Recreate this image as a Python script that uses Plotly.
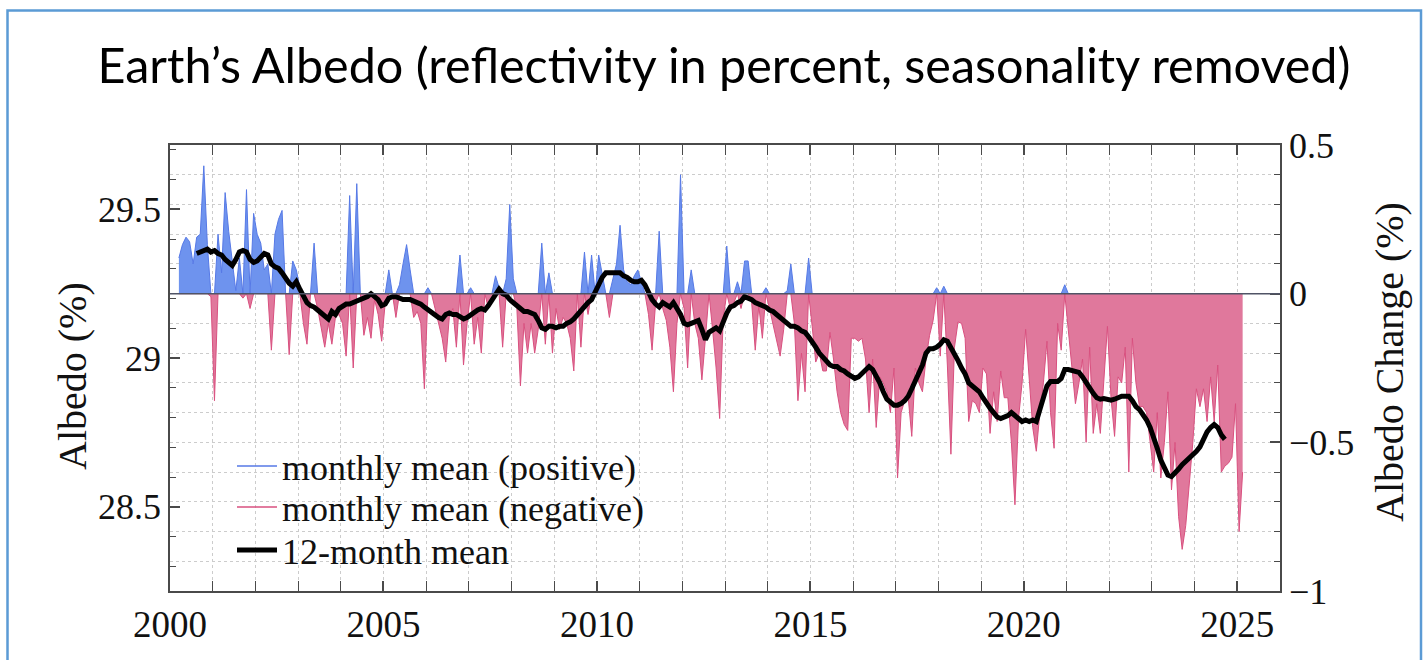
import plotly.graph_objects as go

# ---------------- data ----------------
title_text = "Earth’s Albedo (reflectivity in percent, seasonality removed)"
albedo_baseline = 29.2167          # albedo (%) corresponding to zero change
monthly_start = (2000, 3)          # first monthly value: March 2000
monthly_change = [
    # 2000 (Mar-Dec)
    0.12, 0.165, 0.19, 0.175, 0.10, 0.19, 0.2, 0.43, 0.165, -0.01,
    # 2001
    -0.36, 0.2, 0.07, 0.34, 0.21, 0.1, 0.01, 0.12, -0.015, 0.35, -0.05, 0.27,
    # 2002
    0.2, 0.17, 0.08, 0.1, -0.19, 0.2, 0.25, 0.28, 0.0, -0.205, 0.11, 0.08,
    # 2003
    0.02, -0.1, -0.17, 0.0, 0.17, -0.05, -0.12, -0.18, -0.1, -0.17, -0.08, -0.07,
    # 2004
    -0.1, -0.21, 0.33, -0.25, 0.37, 0.0, -0.14, -0.08, -0.15, -0.02, -0.07, -0.16,
    # 2005
    -0.03, 0.08, 0.0, -0.08, 0.03, 0.1, 0.165, 0.08, -0.08, -0.06, -0.1, -0.32,
    # 2006
    0.02, 0.0, -0.05, -0.1, -0.15, -0.23, -0.08, -0.05, -0.18, 0.13, -0.24, -0.1,
    # 2007
    0.02, -0.17, -0.08, -0.2, 0.0, -0.05, -0.03, 0.06, 0.02, -0.18, 0.05, 0.3,
    # 2008
    0.05, -0.05, -0.31, -0.1, -0.2, -0.1, -0.2, -0.12, 0.17, -0.17, 0.07, -0.2,
    # 2009
    -0.05, -0.12, -0.08, -0.1, -0.15, -0.26, 0.0, -0.18, 0.14, -0.07, 0.13, 0.0,
    # 2010
    0.13, 0.06, 0.0, -0.08, 0.05, 0.1, 0.23, 0.08, 0.04, 0.03, 0.06, 0.08,
    # 2011
    0.04, 0.0, -0.07, -0.19, -0.03, 0.21, -0.05, -0.09, -0.18, -0.33, -0.1, 0.4,
    # 2012
    -0.05, -0.25, 0.08, -0.1, -0.15, -0.29, -0.15, 0.0, -0.12, -0.25, -0.42, -0.08,
    # 2013
    0.16, -0.05, -0.03, 0.04, -0.05, 0.11, 0.11, -0.03, -0.19, -0.04, -0.15, 0.02,
    # 2014
    -0.05, -0.1, -0.15, -0.21, -0.12, 0.01, 0.1, -0.1, -0.36, -0.2, -0.33, 0.12,
    # 2015
    -0.11, -0.23, -0.2, -0.26, -0.26, -0.13, -0.22, -0.33, -0.4, -0.44, -0.46, -0.15,
    # 2016
    -0.15, -0.16, -0.15, -0.22, -0.4, -0.22, -0.45, -0.28, -0.3, -0.33, -0.4, -0.25,
    # 2017
    -0.62, -0.4, -0.36, -0.35, -0.48, -0.25, -0.3, -0.33, -0.22, -0.14, -0.09, 0.02,
    # 2018
    -0.21, 0.025, -0.24, -0.54, -0.18, -0.095, -0.1, -0.15, -0.43, -0.36, -0.37, -0.4,
    # 2019
    -0.25, -0.27, -0.47, -0.33, -0.43, -0.26, -0.35, -0.35, -0.5, -0.71, -0.42, -0.3,
    # 2020
    -0.12, -0.3, -0.45, -0.53, -0.4, -0.3, -0.16, -0.4, -0.52, -0.1, -0.19, 0.03,
    # 2021
    -0.12, -0.25, -0.37, -0.3, -0.22, -0.5, -0.18, -0.47, -0.37, -0.47, -0.3, -0.11,
    # 2022
    -0.35, -0.48, -0.28, -0.3, -0.18, -0.6, -0.15, -0.3, -0.38, -0.38, -0.4, -0.5,
    # 2023
    -0.6, -0.4, -0.62, -0.5, -0.33, -0.66, -0.5, -0.75, -0.86, -0.78, -0.65, -0.5,
    # 2024
    -0.32, -0.38, -0.32, -0.43, -0.28, -0.43, -0.24, -0.6, -0.58, -0.57, -0.55, -0.37,
    # 2025 (Jan-Feb)
    -0.8, -0.6,
]

mean12_start = (2000, 8)           # first 12-month mean value: August 2000
mean12_change = [
    # 2000 (Aug-Dec)
    0.135, 0.14, 0.148, 0.15, 0.14,
    # 2001
    0.145, 0.135, 0.13, 0.115, 0.105, 0.095, 0.115, 0.14, 0.145, 0.14, 0.115, 0.105,
    # 2002
    0.11, 0.125, 0.135, 0.13, 0.1, 0.09, 0.085, 0.07, 0.05, 0.035, 0.025, 0.04,
    # 2003
    0.015, -0.01, -0.03, -0.04, -0.045, -0.055, -0.065, -0.08, -0.085, -0.06, -0.07, -0.05,
    # 2004
    -0.04, -0.035, -0.035, -0.03, -0.025, -0.02, -0.015, -0.01, 0.0, -0.01, -0.02, -0.04,
    # 2005
    -0.035, -0.015, -0.01, -0.01, -0.015, -0.02, -0.02, -0.02, -0.025, -0.03, -0.035, -0.045,
    # 2006
    -0.055, -0.06, -0.07, -0.08, -0.085, -0.07, -0.065, -0.07, -0.07, -0.08, -0.085, -0.08,
    # 2007
    -0.07, -0.06, -0.055, -0.05, -0.055, -0.04, -0.02, 0.0, 0.015, 0.0, -0.005, -0.02,
    # 2008
    -0.03, -0.04, -0.055, -0.06, -0.06, -0.065, -0.07, -0.09, -0.115, -0.12, -0.11, -0.11,
    # 2009
    -0.115, -0.11, -0.11, -0.1, -0.095, -0.085, -0.07, -0.06, -0.045, -0.03, -0.02, 0.01,
    # 2010
    0.03, 0.055, 0.07, 0.07, 0.07, 0.07, 0.07, 0.06, 0.055, 0.045, 0.04, 0.04,
    # 2011
    0.045, 0.03, 0.0, -0.02, -0.035, -0.045, -0.03, -0.04, -0.045, -0.03, -0.05, -0.07,
    # 2012
    -0.1, -0.105, -0.1, -0.095, -0.09, -0.12, -0.155, -0.13, -0.12, -0.115, -0.125, -0.09,
    # 2013
    -0.065, -0.045, -0.04, -0.03, -0.025, -0.01, -0.015, -0.02, -0.03, -0.035, -0.04, -0.045,
    # 2014
    -0.055, -0.06, -0.07, -0.08, -0.09, -0.1, -0.11, -0.11, -0.115, -0.125, -0.13, -0.145,
    # 2015
    -0.16, -0.18, -0.2, -0.215, -0.225, -0.24, -0.245, -0.245, -0.255, -0.26, -0.27, -0.28,
    # 2016
    -0.285, -0.28, -0.27, -0.26, -0.245, -0.255, -0.275, -0.3, -0.33, -0.355, -0.365, -0.375,
    # 2017
    -0.375, -0.37, -0.36, -0.345, -0.32, -0.295, -0.27, -0.24, -0.2, -0.185, -0.185, -0.18,
    # 2018
    -0.17, -0.155, -0.16, -0.18, -0.2, -0.225, -0.25, -0.27, -0.3, -0.31, -0.32, -0.33,
    # 2019
    -0.35, -0.37, -0.385, -0.4, -0.415, -0.42, -0.415, -0.41, -0.4, -0.41, -0.425, -0.43,
    # 2020
    -0.425, -0.43, -0.425, -0.43, -0.39, -0.35, -0.31, -0.295, -0.295, -0.295, -0.285, -0.255,
    # 2021
    -0.255, -0.258, -0.26, -0.265, -0.28, -0.3, -0.32, -0.335, -0.35, -0.355, -0.353, -0.355,
    # 2022
    -0.358, -0.355, -0.35, -0.345, -0.345, -0.345, -0.36, -0.38, -0.39, -0.405, -0.425, -0.45,
    # 2023
    -0.48, -0.52, -0.56, -0.59, -0.61, -0.615, -0.605, -0.59, -0.575, -0.565, -0.555, -0.54,
    # 2024 (Jan-Sep)
    -0.53, -0.515, -0.49, -0.465, -0.45, -0.44, -0.45, -0.475, -0.49,
]

x_tick_years = [2000, 2005, 2010, 2015, 2020, 2025]
left_tick_values = [28.5, 29, 29.5]
right_tick_values = [-1, -0.5, 0, 0.5]
legend_names = ["monthly mean (positive)", "monthly mean (negative)", "12-month mean"]
left_axis_title = "Albedo (%)"
right_axis_title = "Albedo Change (%)"

# ---------------- styles ----------------
BLUE_FILL = "#6e93ee"
BLUE_LINE = "#5679e6"
PINK_FILL = "#e0789c"
PINK_LINE = "#d9507f"
GRID = "#cccccc"
AXIS = "#4a4a4a"
SERIF = "Liberation Serif"


def decimal_years(start, n):
    y, m = start
    return [y + (m - 1 + i + 0.5) / 12 for i in range(n)]


xm = decimal_years(monthly_start, len(monthly_change))
xa = decimal_years(mean12_start, len(mean12_change))
pos = [max(v, 0.0) for v in monthly_change]
neg = [min(v, 0.0) for v in monthly_change]

fig = go.Figure()
fig.add_trace(go.Scatter(x=xm, y=pos, yaxis="y2", mode="lines", fill="tozeroy",
                         fillcolor=BLUE_FILL, line=dict(color=BLUE_LINE, width=1),
                         showlegend=False, hoverinfo="skip"))
fig.add_trace(go.Scatter(x=xm, y=neg, yaxis="y2", mode="lines", fill="tozeroy",
                         fillcolor=PINK_FILL, line=dict(color=PINK_LINE, width=1),
                         showlegend=False, hoverinfo="skip"))
fig.add_trace(go.Scatter(x=xa, y=mean12_change, yaxis="y2", mode="lines",
                         line=dict(color="black", width=5), showlegend=False))

# legend-only entries (line samples), one legend per row for exact row spacing
legend_ids = ["legend", "legend2", "legend3"]
for name, col, w, lid in zip(legend_names, [BLUE_LINE, PINK_LINE, "black"],
                             [1.5, 1.5, 5], legend_ids):
    fig.add_trace(go.Scatter(x=[None], y=[None], mode="lines", name=name,
                             line=dict(color=col, width=w), yaxis="y2",
                             legend=lid))

# placeholder trace so the left (albedo) axis is bound to the base subplot
fig.add_trace(go.Scatter(x=[None], y=[None], mode="lines", showlegend=False))

L, R, T, B = 170, 148, 145, 69
W, H = 1428, 660
pw, ph = W - L - R, H - T - B


def px_x(px):
    return (px - L) / pw


def px_y(py):
    return (H - B - py) / ph


def legend_at(row_center):
    return dict(x=px_x(232), y=px_y(row_center), xanchor="left", yanchor="middle",
                bgcolor="rgba(0,0,0,0)", borderwidth=0,
                font=dict(family=SERIF, size=36, color="#111"),
                itemwidth=40, tracegroupgap=0)


fig.update_layout(
    width=W, height=H,
    margin=dict(l=L, r=R, t=T, b=B, pad=0),
    paper_bgcolor="white", plot_bgcolor="white",
    title=dict(text=title_text, x=724 / W, xref="container", xanchor="center",
               y=1 - 66 / H, yref="container", yanchor="middle",
               font=dict(family="Lato", size=48.5, color="black")),
    xaxis=dict(range=[2000, 2026], tickvals=x_tick_years,
               ticktext=[str(v) for v in x_tick_years],
               ticks="inside", ticklen=10, tickwidth=1.5, tickcolor=AXIS,
               showline=True, linecolor=AXIS, linewidth=1.5, mirror="allticks",
               showgrid=True, gridcolor=GRID, griddash="dot", gridwidth=1,
               zeroline=False,
               minor=dict(dtick=1, tick0=2000, ticks="inside", ticklen=6,
                          tickwidth=1.2, tickcolor=AXIS, showgrid=True,
                          gridcolor=GRID, griddash="dot", gridwidth=1),
               tickfont=dict(family=SERIF, size=37, color="#111")),
    yaxis=dict(range=[albedo_baseline - 1, albedo_baseline + 0.5],
               tickvals=left_tick_values,
               ticktext=["28.5", "29", "29.5"],
               ticks="inside", ticklen=10, tickwidth=1.5, tickcolor=AXIS,
               showline=True, linecolor=AXIS, linewidth=1.5,
               showgrid=False, zeroline=False,
               minor=dict(dtick=0.1, tick0=29, ticks="inside", ticklen=6,
                          tickwidth=1.2, tickcolor=AXIS, showgrid=False),
               tickfont=dict(family=SERIF, size=36, color="#111")),
    yaxis2=dict(range=[-1, 0.5], overlaying="y", side="right",
                tickvals=right_tick_values,
                ticks="inside", ticklen=10, tickwidth=1.5, tickcolor=AXIS,
                showline=True, linecolor=AXIS, linewidth=1.5,
                showgrid=True, gridcolor=GRID, griddash="dot", gridwidth=1,
                zeroline=False,
                minor=dict(dtick=0.1, tick0=0, ticks="inside", ticklen=6,
                           tickwidth=1.2, tickcolor=AXIS, showgrid=True,
                           gridcolor=GRID, griddash="dot", gridwidth=1),
                tickfont=dict(family=SERIF, size=36, color="#111")),
    legend=legend_at(466),
    legend2=legend_at(507),
    legend3=legend_at(550),
    showlegend=True,
)

# zero reference line on the change axis
fig.add_shape(type="line", xref="paper", x0=0, x1=1, yref="y2", y0=0, y1=0,
              line=dict(color="#505466", width=1.5), layer="above")

# light-blue frame around the slide figure
fig.add_shape(type="rect", xref="paper", yref="paper",
              x0=px_x(7.5), x1=px_x(1421), y0=px_y(680), y1=px_y(10.5),
              line=dict(color="#5b9bd5", width=2.5), fillcolor="rgba(0,0,0,0)",
              layer="below")

# axis titles
fig.add_annotation(text=left_axis_title, xref="paper", yref="paper",
                   x=px_x(72), y=px_y(376), textangle=-90, showarrow=False,
                   xanchor="center", yanchor="middle",
                   font=dict(family=SERIF, size=40, color="#111"))
fig.add_annotation(text=right_axis_title, xref="paper", yref="paper",
                   x=px_x(1389), y=px_y(362), textangle=-90, showarrow=False,
                   xanchor="center", yanchor="middle",
                   font=dict(family=SERIF, size=40, color="#111"))

fig.write_html("out.html")
